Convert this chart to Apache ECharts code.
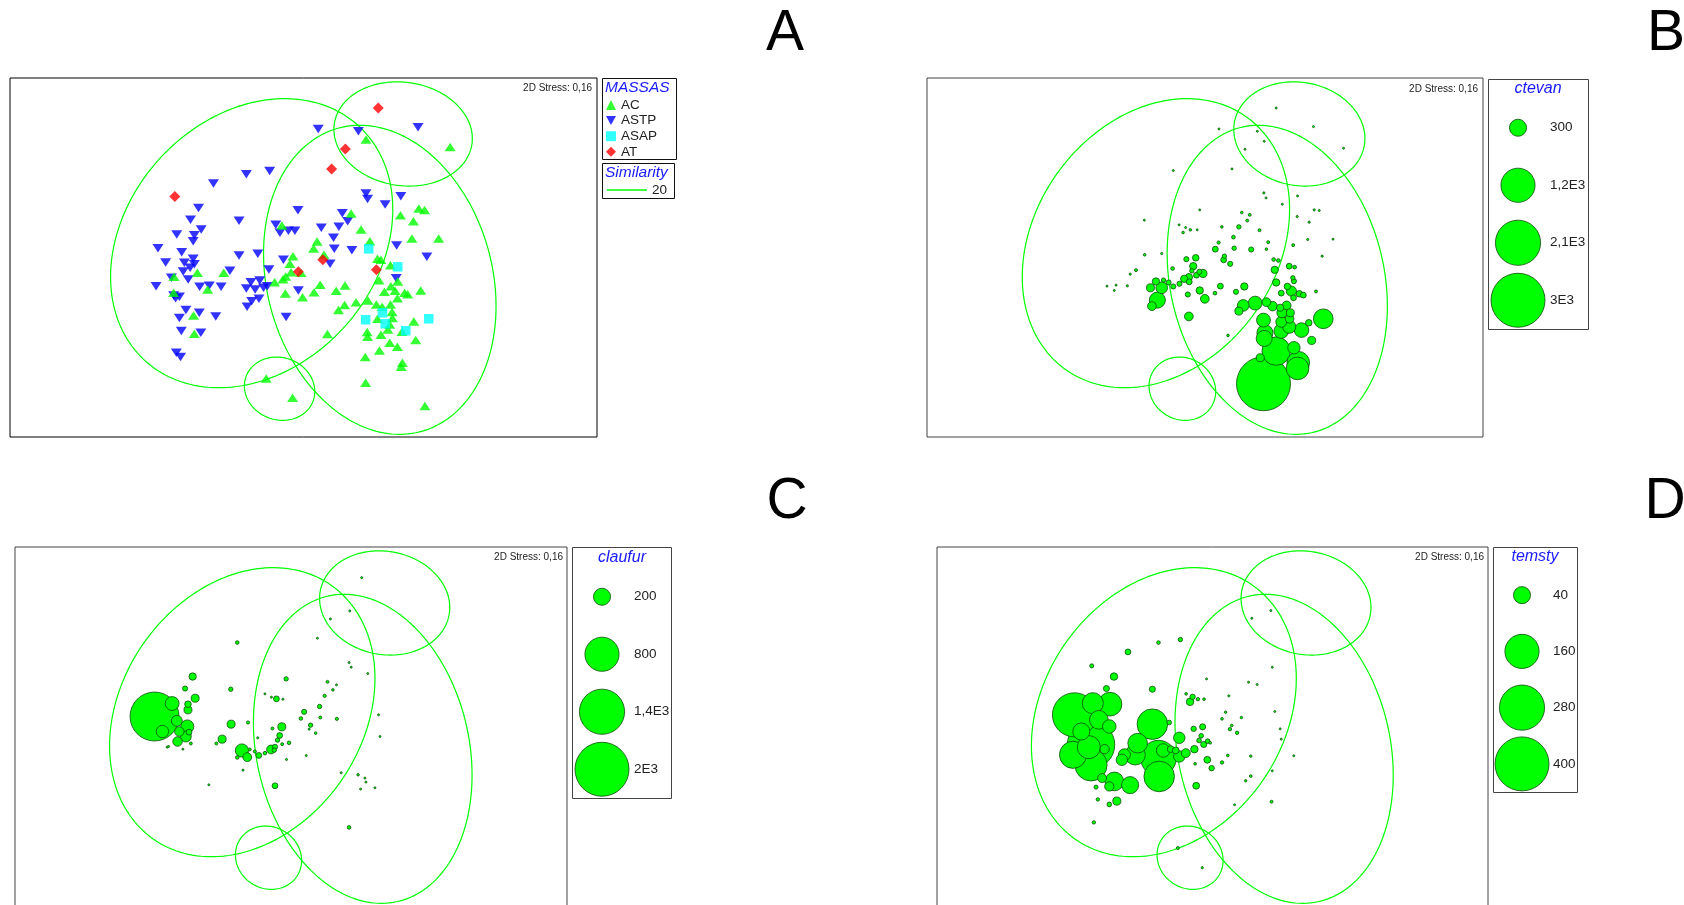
<!DOCTYPE html>
<html><head><meta charset="utf-8">
<script src="https://cdn.jsdelivr.net/npm/echarts@6/dist/echarts.min.js"></script>
<style>html,body{margin:0;padding:0;background:#fff}#chart{width:1684px;height:905px}</style>
</head><body><div id="chart"></div>
<script>
// ---------- DATA (NMDS configuration, arbitrary units: x 0..1535, y 0..1078) ----------
const stressText = '2D Stress: 0,16';
const groupNames = ['AC', 'ASTP', 'ASAP', 'AT'];
const acPoints = [[931,893],[1151,871],[892,671],[1021,666],[1069,686],[1084,682],[1055,648],[711,635],[918,623],[1051,596],[1121,596],[803,587],[794,566],[941,588],[821,547],[961,535],[970,532],[740,543],[732,520],[995,516],[490,493],[559,493],[735,495],[761,493],[721,482],[714,474],[692,465],[429,481],[811,457],[876,455],[965,471],[996,453],[1014,467],[517,443],[428,433],[720,431],[765,420],[795,435],[853,439],[979,436],[1007,439],[1032,433],[1040,429],[1074,440],[1013,417],[875,396],[859,381],[905,405],[936,410],[958,398],[973,391],[995,398],[999,375],[1000,357],[961,355],[1056,347],[993,338],[988,323],[480,365],[482,310],[830,309],[934,315],[970,307],[935,301],[1025,316],[1061,291],[993,283],[1013,271],[966,260],[929,240],[1026,223],[1023,211],[670,176],[739,118],[930,163],[1085,93]];
const astpPoints = [[806,925],[911,918],[1067,930],[618,789],[679,799],[532,761],[931,731],[935,715],[1022,723],[981,698],[493,688],[753,681],[869,672],[883,648],[472,652],[599,649],[500,623],[695,637],[706,613],[728,619],[745,619],[814,628],[860,631],[436,608],[482,606],[479,588],[846,598],[387,567],[449,555],[848,565],[894,561],[1011,575],[407,524],[456,523],[479,535],[482,519],[471,508],[599,545],[648,550],[715,532],[837,520],[1090,541],[453,497],[466,473],[575,499],[677,503],[422,478],[1010,477],[382,453],[496,451],[521,454],[552,451],[618,446],[630,465],[653,470],[641,443],[663,448],[673,453],[754,440],[428,425],[443,421],[433,417],[651,415],[632,408],[620,391],[460,381],[495,373],[538,362],[443,357],[722,360],[448,318],[499,313],[435,253],[446,240]];
const asapPoints = [[938,565],[1014,511],[974,373],[930,352],[981,340],[1035,319],[1095,355]];
const atPoints = [[963,988],[877,865],[841,805],[431,722],[818,532],[754,496],[958,502]];
// similarity 20 contours: [centreX, centreY, halfWidth, halfHeight, phase(deg)]
const ellipses = [[632,582,369,434,76.5],[967,472,304,464,99.8],[1028,910,181,156.5,95],[705,145,92,95,95]];
const similarityLabel = '20';

// bubble panels: [x, y, abundance]
const ctevanName = 'ctevan';
const ctevanBubbles = [[929,160,3000],[964,258,834],[1025,223,527],[1023,206,527],[1094,355,400],[933,313,265],[931,296,265],[929,351,198],[978,318,219],[1000,331,178],[1034,321,219],[980,373,107],[1003,373,66],[978,346,123],[1001,355,79],[1013,268,158],[1062,290,66],[1054,343,44],[906,402,198],[873,395,140],[937,405,79],[954,393,93],[993,395,79],[861,378,66],[975,388,55],[920,238,66],[1006,438,107],[1028,430,44],[1039,426,35],[1012,418,35],[978,432,35],[995,452,44],[1013,468,27],[1010,478,20],[964,464,55],[960,502,55],[1000,513,35],[1015,510,14],[957,533,14],[970,530,14],[1074,437,9],[1091,543,5],[1121,594,3],[1051,593,5],[1011,576,9],[1055,645,5],[1022,662,5],[1069,682,5],[1083,680,3],[1023,724,3],[981,699,3],[930,733,5],[936,718,3],[942,585,9],[937,564,7],[918,621,9],[895,563,27],[848,567,20],[846,600,14],[861,631,20],[884,650,9],[891,667,9],[869,674,7],[814,631,7],[837,520,27],[819,532,35],[821,543,20],[796,564,35],[805,584,11],[810,453,35],[795,432,14],[853,436,27],[876,452,55],[831,305,7],[767,415,79],[753,440,55],[720,428,27],[723,362,79],[762,491,66],[744,486,35],[752,496,27],[723,480,55],[724,466,35],[710,475,55],[697,460,27],[680,452,27],[735,513,55],[742,538,44],[716,534,27],[731,499,20],[678,506,14],[667,464,27],[653,471,20],[648,448,140],[632,467,55],[617,448,66],[636,411,265],[621,393,79],[707,614,7],[696,637,3],[714,629,3],[727,622,7],[746,622,3],[753,682,3],[648,551,5],[601,547,7],[577,501,9],[561,489,5],[553,454,5],[522,456,2],[517,440,2],[497,453,1],[600,651,1],[680,800,2],[806,925,2],[842,805,2],[878,864,2],[912,918,2],[931,888,2],[964,988,1],[1067,932,2],[1150,867,2]];
const ctevanLegendValues = [300, 1200, 2100, 3000];
const ctevanLegendLabels = ['300', '1,2E3', '2,1E3', '3E3'];

const claufurName = 'claufur';
const claufurBubbles = [[388,569,1643],[437,608,132],[410,524,106],[450,556,82],[479,539,119],[457,524,62],[475,509,82],[452,494,62],[484,522,23],[481,589,44],[481,606,30],[501,624,44],[473,653,18],[494,689,37],[427,479,3],[423,477,2],[467,471,2],[489,488,6],[601,546,44],[576,501,44],[560,488,6],[600,651,13],[618,791,9],[648,551,7],[631,467,119],[646,447,53],[618,446,9],[653,470,6],[667,464,7],[678,452,23],[695,459,9],[712,470,53],[723,478,18],[721,468,13],[743,486,6],[762,490,9],[730,498,13],[736,512,23],[742,538,44],[716,533,6],[675,505,3],[727,622,23],[713,627,3],[695,637,2],[745,621,3],[754,682,13],[634,408,3],[539,364,2],[723,361,23],[755,440,3],[810,452,2],[795,563,9],[804,583,18],[822,543,13],[818,531,3],[836,519,4.5],[847,599,13],[849,566,6],[861,631,7],[884,649,4.5],[869,673,6],[894,664,2],[895,562,7],[841,804,2],[929,731,1.5],[935,717,1.5],[981,698,1.5],[877,862,1.5],[931,886,1],[964,986,1],[1011,574,1],[1015,509,1],[907,400,2],[954,394,4.5],[973,384,1.5],[976,372,1.5],[961,351,2],[1001,355,1.5],[929,236,9]];
const claufurLegendValues = [200, 800, 1400, 2000];
const claufurLegendLabels = ['200', '800', '1,4E3', '2E3'];

const temstyName = 'temsty';
const temstyBubbles = [[383,574,267],[434,609,61],[482,606,77],[451,559,48],[402,524,40],[480,539,25],[429,484,310],[423,477,73],[467,471,12],[379,454,101],[429,424,143],[460,384,11],[494,374,48],[480,359,12],[538,363,40],[501,315,9],[480,305,3],[448,320,1.6],[443,357,2.3],[437,251,1.6],[431,721,2.3],[493,689,7.7],[472,653,5.1],[600,651,5.1],[600,546,128],[647,551,3],[559,489,53],[522,454,20],[552,454,57],[515,439,18],[617,444,174],[619,389,128],[630,467,25],[651,471,6.4],[665,467,6.4],[675,449,18],[693,459,11],[675,505,18],[717,471,7.7],[722,361,6.4],[753,439,6.4],[765,414,4],[743,485,5.1],[730,497,3],[736,511,3],[754,495,3],[761,490,1],[715,532,4],[740,538,5.1],[705,613,7.7],[712,628,4],[727,621,1.6],[744,621,1],[694,637,1],[719,427,1],[794,431,1.6],[810,452,1],[816,531,1.6],[821,542,1],[836,520,1.6],[794,562,1],[804,582,0.8],[848,566,0.8],[813,631,0.6],[874,450,0.8],[874,390,1],[860,376,0.8],[751,682,0.5],[868,672,0.5],[892,665,0.5],[829,304,0.5],[617,791,1.8],[678,800,2.6],[532,763,4.6],[934,717,0.3],[930,887,0.2],[877,864,0.3],[941,584,0.3],[956,532,0.5],[959,501,0.5],[994,451,0.3],[934,406,0.5],[932,313,1.2],[671,174,1.2],[739,115,0.7]];
const temstyLegendValues = [40, 160, 280, 400];
const temstyLegendLabels = ['40', '160', '280', '400'];

const panelLetters = ['A', 'B', 'C', 'D'];

// ---------- CHART ----------
const FONT = '"Liberation Sans", Arial, sans-serif';
const GREEN = '#00ff00', BLUE = '#0000ff', CYAN = '#00ffff', RED = '#ff0000';
const TITLE_BLUE = '#1a1aff';
const BUBBLE_MAX_PX = 54;

const chart = echarts.init(document.getElementById('chart'));

const mainGrids = [
  {left: 10, top: 78, width: 587, height: 359, border: '#000'},
  {left: 927, top: 78, width: 556, height: 359, border: '#444'},
  {left: 15, top: 547, width: 552, height: 359, border: '#444'},
  {left: 937, top: 547, width: 551, height: 359, border: '#444'}
];
const legendGrids = [
  {left: 1488, top: 99, width: 60, height: 230},
  {left: 572, top: 568, width: 60, height: 230},
  {left: 1493, top: 567, width: 58, height: 225}
];

const grid = [];
const xAxis = [];
const yAxis = [];
mainGrids.forEach((g, i) => {
  grid.push({left: g.left, top: g.top, width: g.width, height: g.height, show: true,
    borderColor: g.border, borderWidth: 1, backgroundColor: 'transparent', containLabel: false, outerBoundsMode: 'none'});
  xAxis.push({gridIndex: i, type: 'value', min: 0, max: 1535, show: false});
  yAxis.push({gridIndex: i, type: 'value', min: 0, max: 1078, show: false});
});
const legendSets = [
  {values: ctevanLegendValues, labels: ctevanLegendLabels},
  {values: claufurLegendValues, labels: claufurLegendLabels},
  {values: temstyLegendValues, labels: temstyLegendLabels}
];
legendGrids.forEach((g, j) => {
  const gi = 4 + j;
  grid.push({left: g.left, top: g.top, width: g.width, height: g.height, show: false, containLabel: false, outerBoundsMode: 'none'});
  xAxis.push({gridIndex: gi, type: 'category', data: ['s'], show: false});
  yAxis.push({gridIndex: gi, type: 'category', data: legendSets[j].labels, inverse: true, position: 'right',
    axisLine: {show: false}, axisTick: {show: false}, splitLine: {show: false},
    axisLabel: {margin: 2, fontSize: 13.5, color: '#222', fontFamily: FONT, align: 'left'}});
});

function bubbleSize(v, vmax) { return Math.max(2, BUBBLE_MAX_PX * Math.sqrt(v / vmax)); }

function renderEllipse(params, api) {
  const cx = api.value(0), cy = api.value(1), a = api.value(2), b = api.value(3), d = api.value(4) * Math.PI / 180;
  const pts = [];
  for (let k = 0; k <= 180; k++) {
    const t = k / 180 * 2 * Math.PI;
    pts.push(api.coord([cx + a * Math.cos(t), cy + b * Math.cos(t - d)]));
  }
  return {type: 'polyline', shape: {points: pts}, style: {fill: null, stroke: GREEN, lineWidth: 1.2}, silent: true};
}

const series = [];
for (let i = 0; i < 4; i++) {
  series.push({
    type: 'custom', name: i === 0 ? similarityLabel : 'contour' + i, xAxisIndex: i, yAxisIndex: i,
    data: ellipses, renderItem: renderEllipse, itemStyle: {color: GREEN}, z: 1, silent: true
  });
}
const bubbleStyle = {color: GREEN, borderColor: '#0d4a0d', borderWidth: 0.8, opacity: 1};
// Panel A: groups
series.push({type: 'scatter', name: 'ASTP', xAxisIndex: 0, yAxisIndex: 0, data: astpPoints, symbol: 'triangle', symbolRotate: 180, symbolSize: [11, 8.5], itemStyle: {color: BLUE}, z: 3});
series.push({type: 'scatter', name: 'AC', xAxisIndex: 0, yAxisIndex: 0, data: acPoints, symbol: 'triangle', symbolSize: [11, 8.5], itemStyle: {color: GREEN}, z: 4});
series.push({type: 'scatter', name: 'ASAP', xAxisIndex: 0, yAxisIndex: 0, data: asapPoints, symbol: 'rect', symbolSize: [9.5, 9.5], itemStyle: {color: CYAN}, z: 5});
series.push({type: 'scatter', name: 'AT', xAxisIndex: 0, yAxisIndex: 0, data: atPoints, symbol: 'diamond', symbolSize: [11, 11], itemStyle: {color: RED}, z: 6});

const bubbleSets = [
  {name: ctevanName, data: ctevanBubbles, vmax: ctevanLegendValues[3], grid: 1, lg: 4},
  {name: claufurName, data: claufurBubbles, vmax: claufurLegendValues[3], grid: 2, lg: 5},
  {name: temstyName, data: temstyBubbles, vmax: temstyLegendValues[3], grid: 3, lg: 6}
];
bubbleSets.forEach((b, j) => {
  const sorted = b.data.slice().sort((p, q) => q[2] - p[2]);
  series.push({type: 'scatter', name: b.name, xAxisIndex: b.grid, yAxisIndex: b.grid, data: sorted,
    symbolSize: (d) => bubbleSize(d[2], b.vmax), itemStyle: bubbleStyle, z: 3});
  series.push({type: 'scatter', name: b.name + '-key', xAxisIndex: b.lg, yAxisIndex: b.lg,
    data: legendSets[j].values.map((v, k) => [0, k, v]),
    symbolSize: (d) => bubbleSize(d[2], b.vmax), itemStyle: bubbleStyle, z: 3});
});

const txt = (x, y, text, opts) => ({type: 'text', x: x, y: y, silent: true,
  style: Object.assign({text: text, fontFamily: FONT, fill: '#222', verticalAlign: 'middle'}, opts)});
const box = (x, y, w, h, c) => ({type: 'rect', silent: true, shape: {x: x + 0.5, y: y + 0.5, width: w, height: h},
  style: {fill: null, stroke: c, lineWidth: 1}});

const graphic = [
  box(602, 78, 74, 81, '#111'),
  box(602, 163, 72, 35, '#111'),
  box(1488, 79, 100, 250, '#444'),
  box(572, 547, 99, 251, '#444'),
  box(1493, 547, 84, 245, '#444'),
  txt(605, 88, 'MASSAS', {fontSize: 15.5, fontStyle: 'italic', fill: TITLE_BLUE}),
  txt(605, 173, 'Similarity', {fontSize: 15.5, fontStyle: 'italic', fill: TITLE_BLUE}),
  txt(1538, 89, ctevanName, {fontSize: 16, fontStyle: 'italic', fill: TITLE_BLUE, align: 'center'}),
  txt(622, 558, claufurName, {fontSize: 16, fontStyle: 'italic', fill: TITLE_BLUE, align: 'center'}),
  txt(1535, 557, temstyName, {fontSize: 16, fontStyle: 'italic', fill: TITLE_BLUE, align: 'center'}),
  txt(592, 88, stressText, {fontSize: 10, align: 'right'}),
  txt(1478, 89, stressText, {fontSize: 10, align: 'right'}),
  txt(563, 557, stressText, {fontSize: 10, align: 'right'}),
  txt(1484, 557, stressText, {fontSize: 10, align: 'right'}),
  txt(785, 34, panelLetters[0], {fontSize: 57, fill: '#000', align: 'center'}),
  txt(1666, 34, panelLetters[1], {fontSize: 57, fill: '#000', align: 'center'}),
  txt(787, 502, panelLetters[2], {fontSize: 57, fill: '#000', align: 'center'}),
  txt(1665, 502, panelLetters[3], {fontSize: 57, fill: '#000', align: 'center'})
];

chart.setOption({
  animation: false,
  backgroundColor: '#fff',
  grid: grid, xAxis: xAxis, yAxis: yAxis,
  legend: [
    {data: [{name: 'AC', icon: 'triangle'}, {name: 'ASTP', icon: 'path://M0,0L10,0L5,9Z'}, {name: 'ASAP', icon: 'rect'}, {name: 'AT', icon: 'diamond'}],
      orient: 'vertical', left: 606, top: 98, padding: 0, itemWidth: 10, itemHeight: 10, itemGap: 1.6, selectedMode: false,
      textStyle: {fontSize: 13.5, color: '#222', fontFamily: FONT}},
    {data: [{name: similarityLabel, icon: 'rect'}], left: 607, top: 183, padding: 0, itemWidth: 40, itemHeight: 1.5,
      selectedMode: false, textStyle: {fontSize: 13.5, color: '#222', fontFamily: FONT}}
  ],
  graphic: graphic,
  series: series
});
</script></body></html>
